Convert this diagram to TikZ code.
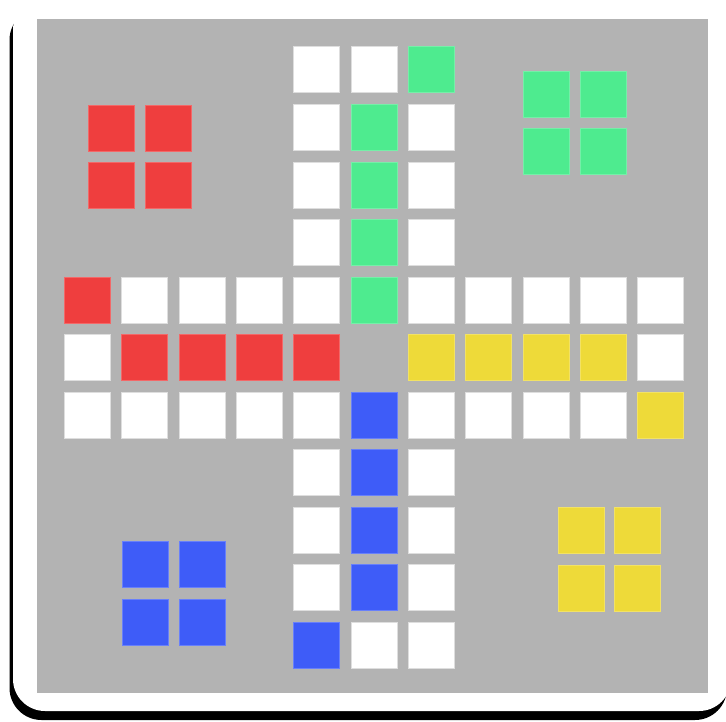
\documentclass[tikz,border=0pt]{standalone}
\definecolor{boardgray}{HTML}{B3B3B3}
\definecolor{lred}{HTML}{EF3E3E}
\definecolor{lgreen}{HTML}{4EEB8F}
\definecolor{lblue}{HTML}{3E5CF8}
\definecolor{lyellow}{HTML}{EEDA39}
\begin{document}
\begin{tikzpicture}[x=1pt,y=-1pt,
  cell/.style={rectangle, fill=#1, draw=#1!78!white, line width=0.6pt,
    minimum size=46pt, inner sep=0pt, anchor=north west},
  cw/.style={cell=white, draw=black!13},
  cr/.style={cell=lred},
  cg/.style={cell=lgreen},
  cb/.style={cell=lblue},
  cy/.style={cell=lyellow}]
\useasboundingbox (0,0) rectangle (726,722);
\clip (0,0) rectangle (726,722);
% card with shadow
\fill[black, rounded corners=32pt] (9.5,8) rectangle (727,720);
\fill[white, rounded corners=32pt] (13,-2) rectangle (731,711);
% board
\fill[boardgray] (37,19) rectangle (708,693);
% track cells
\foreach \r/\c/\s in {
  0/4/cw, 0/5/cw, 0/6/cg,
  1/4/cw, 1/5/cg, 1/6/cw,
  2/4/cw, 2/5/cg, 2/6/cw,
  3/4/cw, 3/5/cg, 3/6/cw,
  4/0/cr, 4/1/cw, 4/2/cw, 4/3/cw, 4/4/cw, 4/5/cg, 4/6/cw, 4/7/cw, 4/8/cw, 4/9/cw, 4/10/cw,
  5/0/cw, 5/1/cr, 5/2/cr, 5/3/cr, 5/4/cr, 5/6/cy, 5/7/cy, 5/8/cy, 5/9/cy, 5/10/cw,
  6/0/cw, 6/1/cw, 6/2/cw, 6/3/cw, 6/4/cw, 6/5/cb, 6/6/cw, 6/7/cw, 6/8/cw, 6/9/cw, 6/10/cy,
  7/4/cw, 7/5/cb, 7/6/cw,
  8/4/cw, 8/5/cb, 8/6/cw,
  9/4/cw, 9/5/cb, 9/6/cw,
  10/4/cb, 10/5/cw, 10/6/cw}
  \node[\s] (t-\r-\c) at ({63.9+57.33*\c},{46.5+57.55*\r}) {};
% home bases
\foreach \i in {0,1} \foreach \j in {0,1} {
  \node[cr] (hr-\i-\j) at ({88+57*\j},{104.8+57.3*\i}) {};
  \node[cg] (hg-\i-\j) at ({522.5+57.5*\j},{71+57.3*\i}) {};
  \node[cb] (hb-\i-\j) at ({121.5+57.3*\j},{541+58*\i}) {};
  \node[cy] (hy-\i-\j) at ({557.5+56.8*\j},{507.2+57.3*\i}) {};
}
\end{tikzpicture}
\end{document}
